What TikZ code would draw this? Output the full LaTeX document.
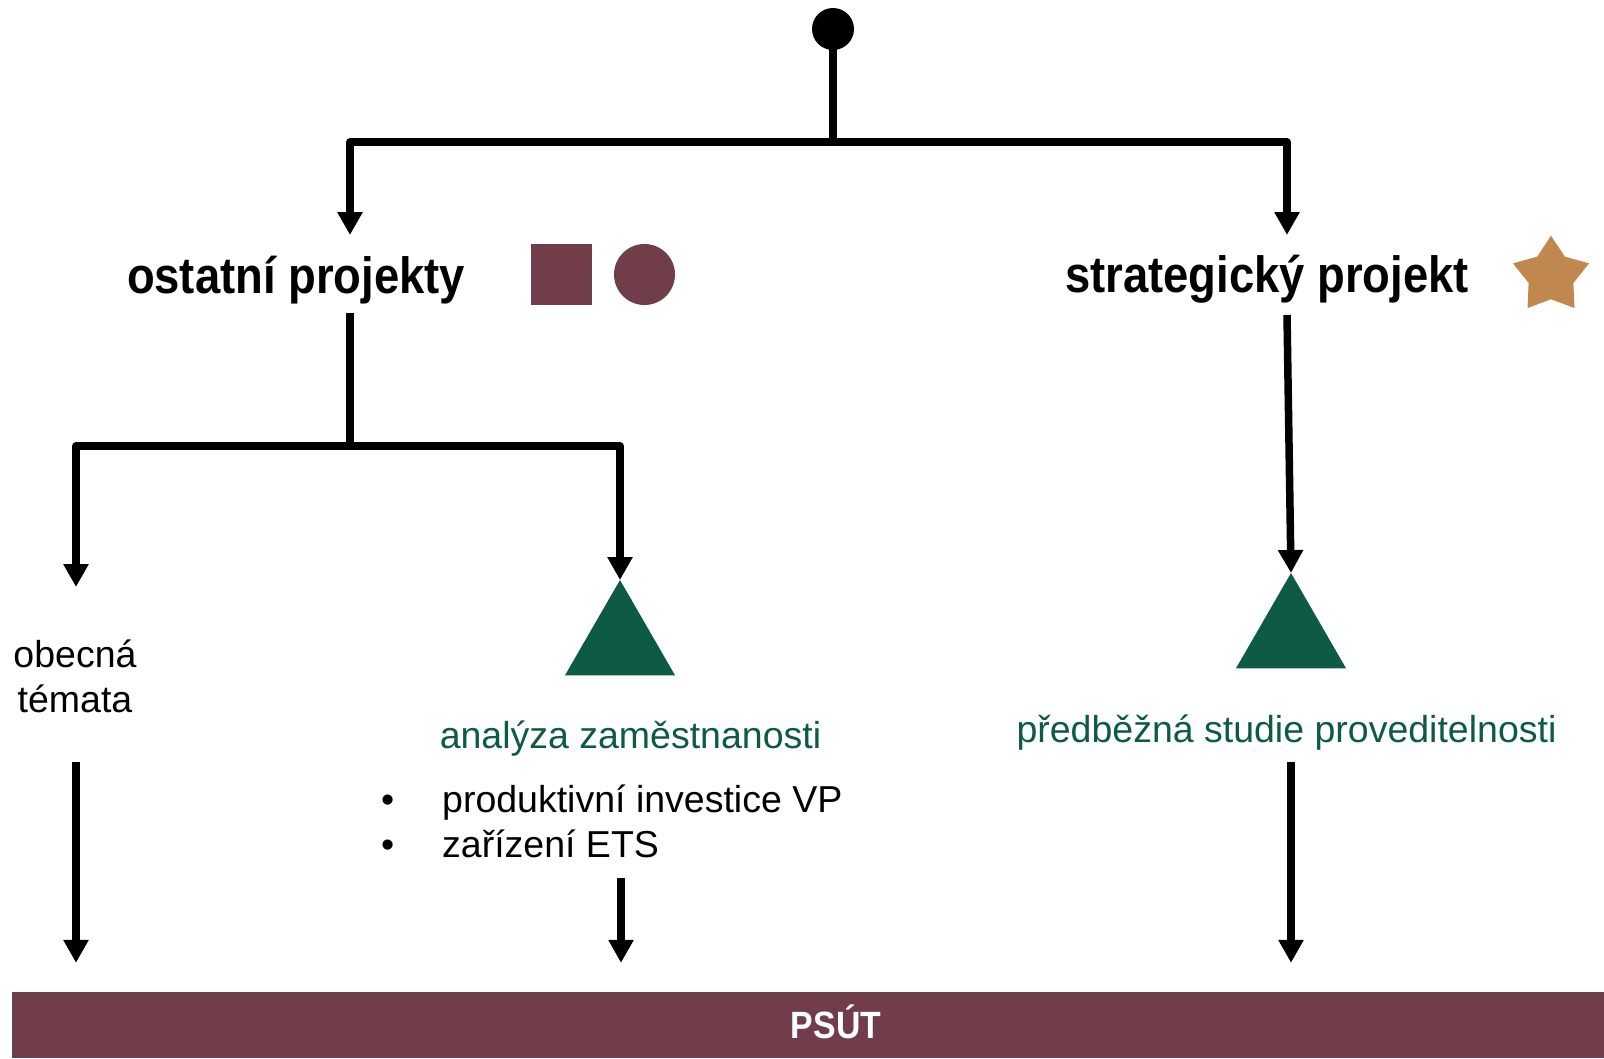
\documentclass[tikz,border=0pt]{standalone}
\usepackage{fontspec}
\setmainfont{Liberation Sans}
\newfontfamily\condfont[FakeStretch=0.89]{Liberation Sans}
\usetikzlibrary{arrows.meta,shapes.geometric}
\definecolor{maroon}{HTML}{713D4A}
\definecolor{dgreen}{HTML}{0D5B44}
\definecolor{gold}{HTML}{C0884E}
\begin{document}
\begin{tikzpicture}[x=1pt,y=-1pt,
  conn/.style={line width=7.5pt, line join=round},
  arr/.style={conn, -{Triangle[length=23pt,width=24pt]}},
  head/.style={font={\fontsize{51}{60}\condfont\bfseries}, inner sep=0, anchor=base},
  body/.style={font={\fontsize{37.5}{45}\selectfont}, inner sep=0},
  greentext/.style={body, text=dgreen, anchor=base},
  tri/.style={regular polygon, regular polygon sides=3, fill=dgreen, minimum size=127pt, inner sep=0, outer sep=0},
  symb/.style={fill=maroon, minimum size=61pt, inner sep=0, outer sep=0},
]
\useasboundingbox (0,0) rectangle (1604,1058);

% start dot
\node[circle, fill=black, minimum size=42pt, inner sep=0] (start) at (833,29) {};

% headings and symbols
\node[head] (op) at (296,293) {ostatní projekty};
\node[head] (sp) at (1267,292) {strategický projekt};
\node[symb, rectangle] (sq) at (561.5,274.5) {};
\node[symb, circle] (ci) at (644.5,274.5) {};
\node[star, star points=5, star point ratio=1.7, fill=gold, minimum size=80pt, inner sep=0] (st) at (1551,275.7) {};

% triangles
\node[tri] (t1) at (620,643.5) {};
\node[tri] (t2) at (1291,636.5) {};

% texts
\node[body, align=center, anchor=base] (ob) at (75,712) {obecná\\témata};
\node[greentext] (az) at (630.5,748) {analýza zaměstnanosti};
\node[greentext] (ps) at (1286.5,742) {předběžná studie proveditelnosti};
\node[body, align=left, anchor=base west] (list) at (381,857) {\makebox[61pt][l]{•}produktivní investice VP\\\makebox[61pt][l]{•}zařízení ETS};

% bottom bar
\node[rectangle, fill=maroon, minimum width=1648pt, minimum height=66pt, inner sep=0,
      text=white, font={\fontsize{38}{42}\condfont\bfseries}, text height=26pt, text depth=0pt] (psut) at (836,1025) {PSÚT};

% coordinates
\coordinate (j1) at (833,142);
\coordinate (opin) at (350,235);
\coordinate (spin) at (1287,235);
\coordinate (opout) at (350,313);
\coordinate (j2) at (350,446);
\coordinate (obin) at (76,587);
\coordinate (spout) at (1287,315);
\coordinate (obout) at (76,762);
\coordinate (azout) at (621,878);
\coordinate (psout) at (1291,762);

% connectors
\draw[conn] (start.center) -- (j1);
\draw[arr] (j1) -| (opin);
\draw[arr] (j1) -| (spin);
\draw[conn] (opout) -- (j2);
\draw[arr] (j2) -| (obin);
\draw[arr] (j2) -| (t1.north);
\draw[arr] (spout) -- (t2.north);
\draw[arr, shorten >=29pt] (obout) -- (obout |- psut.north);
\draw[arr, shorten >=29pt] (azout) -- (azout |- psut.north);
\draw[arr, shorten >=29pt] (psout) -- (psout |- psut.north);
\end{tikzpicture}
\end{document}
